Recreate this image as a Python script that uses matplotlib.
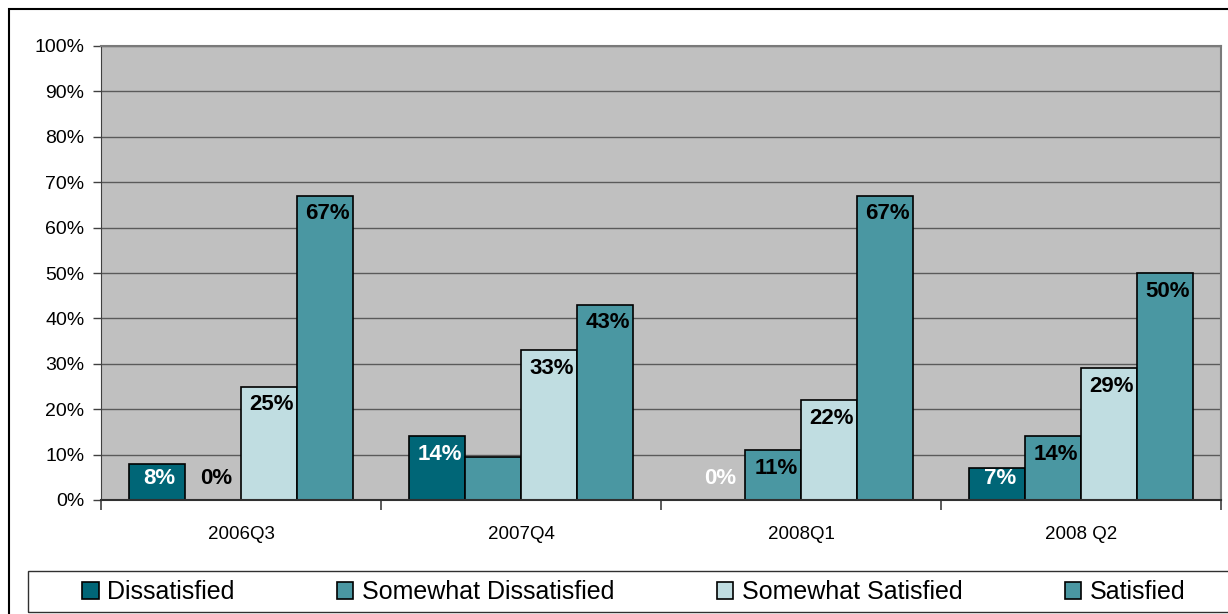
import matplotlib.pyplot as plt
import numpy as np
from matplotlib.patches import Rectangle
from matplotlib.ticker import MultipleLocator, PercentFormatter

plt.rcParams['font.family'] = ['Liberation Sans', 'DejaVu Sans']

# ========== Survey data (percent of respondents) ==========

quarters = ['2006Q3', '2007Q4', '2008Q1', '2008 Q2']
series_names = ['Dissatisfied', 'Somewhat Dissatisfied', 'Somewhat Satisfied', 'Satisfied']
dissatisfied = [8, 14, 0, 7]
somewhat_dissatisfied = [0, 9.5, 11, 14]
somewhat_satisfied = [25, 33, 22, 29]
satisfied = [67, 43, 67, 50]
# the 2007Q4 "somewhat dissatisfied" bar carries no label
show_label = [
    [True, True, True, True],
    [True, False, True, True],
    [True, True, True, True],
    [True, True, True, True],
]

series_values = [dissatisfied, somewhat_dissatisfied, somewhat_satisfied, satisfied]
bar_colors = ['#006677', '#4A97A2', '#C0DDE1', '#4A97A2']
label_colors = ['white', 'black', 'black', 'black']

# ========== Figure ==========

fig = plt.figure(figsize=(12.28, 6.14), dpi=100)
W, H = 1228, 614
ax = fig.add_axes([101 / W, (H - 500) / H, 1120 / W, 454 / H])
ax.set_facecolor('#C0C0C0')

x = np.arange(len(quarters))
width = 0.2
offsets = [-0.3, -0.1, 0.1, 0.3]

for i, (vals, color) in enumerate(zip(series_values, bar_colors)):
    ax.bar(x + offsets[i], vals, width, color=color, edgecolor='black',
           linewidth=1.2, label=series_names[i], zorder=3)
    for j, v in enumerate(vals):
        if not show_label[i][j]:
            continue
        ax.text(x[j] + offsets[i] + 0.01, max(v - 4.0, 4.8), f'{v:.0f}%',
                ha='center', va='center', fontsize=16, fontweight='bold',
                color=label_colors[i], zorder=4)

ax.set_xlim(-0.5, 3.5)
ax.set_ylim(0, 100)
ax.yaxis.set_major_locator(MultipleLocator(10))
ax.yaxis.set_major_formatter(PercentFormatter(decimals=0))
ax.grid(axis='y', color='#5A5A5A', linewidth=1.0, zorder=1)

ax.set_xticks(x)
ax.set_xticklabels(quarters)
ax.set_xticks(np.arange(-0.5, 4.0, 1.0), minor=True)
ax.tick_params(axis='x', which='major', length=0, labelsize=13.5, pad=19)
ax.tick_params(axis='x', which='minor', length=7, width=1.2, color='#404040')
ax.tick_params(axis='y', length=6, width=1.0, color='#404040', labelsize=14, pad=6)

for side in ['top', 'right']:
    ax.spines[side].set_color('#7A7A7A')
    ax.spines[side].set_linewidth(1.5)
ax.spines['left'].set_color('#404040')
ax.spines['bottom'].set_color('#303030')
ax.spines['bottom'].set_linewidth(1.5)
ax.spines['bottom'].set_zorder(5)

# chart frame and legend frame run off the right/bottom edge
fig.patches.append(Rectangle((9 / W, -0.1), 1.2, (H - 9) / H + 0.1,
                             transform=fig.transFigure, fill=False,
                             edgecolor='black', linewidth=1.5))
fig.patches.append(Rectangle((28 / W, 2 / H), 1.2, 41 / H,
                             transform=fig.transFigure, fill=False,
                             edgecolor='#303030', linewidth=1.0))

handles, labels = ax.get_legend_handles_labels()
leg = fig.legend(handles, labels, loc='center', ncol=4,
                 bbox_to_anchor=(634 / W, 22 / H), fontsize=18,
                 frameon=False, handlelength=0.65, handleheight=0.65,
                 handletextpad=0.35, columnspacing=4.1, borderaxespad=0)

fig.savefig('out.png', dpi=100)
